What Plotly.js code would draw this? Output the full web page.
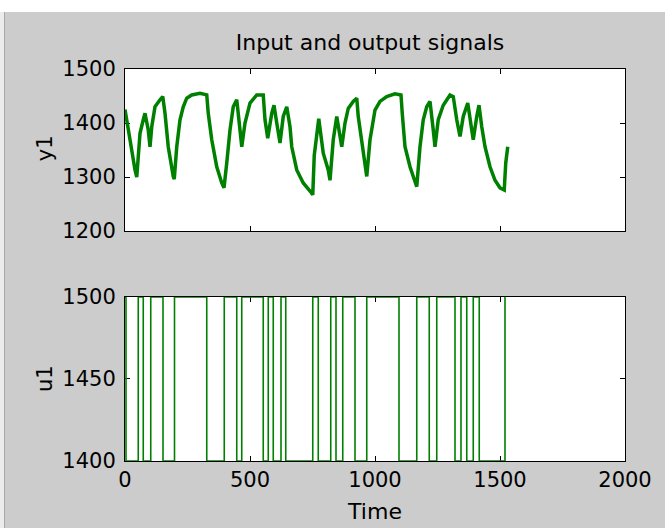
<!DOCTYPE html>
<html><head><meta charset="utf-8">
<script src="https://cdn.plot.ly/plotly-3.0.1.min.js"></script>
<style>
html,body{margin:0;padding:0;background:#ffffff;width:665px;height:528px;overflow:hidden}
#edge{position:absolute;left:0;top:12px;width:4px;height:516px;background:#ececec;border-right:1px solid #a8a8a8}
#chart{position:absolute;left:5px;top:12px;width:660px;height:516px}
</style></head>
<body>
<div id="edge"></div>
<div id="chart"></div>
<script>
// ---- output signal y1 (time, value) ----
const yTime = [0,13,27,40,47,60,73,80,93,100,107,120,140,151,160,173,193,197,207,220,233,247,267,300,327,333,347,367,387,396,407,420,433,447,460,467,480,500,527,553,560,571,587,596,607,620,633,647,660,667,687,713,747,751,757,767,775,793,813,820,833,847,860,867,880,893,913,927,933,947,960,967,980,1000,1020,1047,1080,1104,1109,1120,1140,1160,1167,1180,1193,1207,1220,1233,1240,1253,1273,1300,1313,1327,1340,1353,1371,1387,1393,1407,1416,1427,1440,1460,1480,1500,1517,1523,1531];
const yValue = [1425,1387,1356,1313,1300,1381,1406,1418,1387,1356,1393,1430,1443,1449,1418,1356,1301,1296,1356,1406,1430,1446,1452,1455,1452,1418,1369,1319,1289,1280,1326,1387,1430,1443,1387,1356,1400,1437,1452,1452,1406,1372,1418,1433,1400,1363,1412,1430,1393,1356,1313,1289,1270,1267,1340,1380,1408,1344,1313,1294,1369,1412,1375,1356,1400,1427,1440,1446,1412,1363,1319,1301,1369,1424,1440,1449,1454,1452,1418,1356,1319,1294,1282,1356,1406,1430,1440,1387,1356,1406,1433,1452,1449,1406,1375,1412,1437,1387,1369,1412,1433,1393,1356,1319,1294,1280,1276,1326,1356];

// ---- input signal u1: switching instants and level held from each ----
const uTime  = [0,4,53,73,103,152,198,327,397,447,467,553,573,593,624,643,751,773,823,844,871,920,967,1096,1167,1217,1247,1320,1344,1367,1393,1417,1520];
const uLevel = [1500,1400,1500,1400,1500,1400,1500,1400,1500,1400,1500,1400,1500,1400,1500,1400,1500,1400,1500,1400,1500,1400,1500,1400,1500,1400,1500,1400,1500,1400,1500,1400,1500];

// ---- axis ticks / labels ----
const xTicks = [0,500,1000,1500,2000];
const y1Ticks = [1200,1300,1400,1500];
const u1Ticks = [1400,1450,1500];
const titleText = "Input and output signals";
const xLabel = "Time", y1Label = "y1", u1Label = "u1";

const green = "#008000";
const fnt = {family:"DejaVu Sans, sans-serif", size:21, color:"#000"};
const tfnt = {family:"DejaVu Sans, sans-serif", size:22, color:"#000"};

const traces = [
  {x:yTime, y:yValue, xaxis:"x2", yaxis:"y2", type:"scatter", mode:"lines",
   line:{color:green, width:3.5}, hoverinfo:"skip"},
  {x:uTime, y:uLevel, xaxis:"x", yaxis:"y", type:"scatter", mode:"lines",
   line:{color:green, width:1.6, shape:"hv"}, cliponaxis:false, hoverinfo:"skip"}
];

const axCommon = {showline:true, linecolor:"#000", linewidth:1, mirror:"ticks",
  ticks:"inside", ticklen:5, tickcolor:"#000", showgrid:false, zeroline:false,
  tickfont:fnt, layer:"below traces", fixedrange:true};

const layout = {
  width:660, height:516,
  margin:{l:120, r:40, t:57, b:67},
  paper_bgcolor:"#cccccc", plot_bgcolor:"#ffffff",
  showlegend:false,
  title:{text:titleText, font:tfnt, x:0.49, xref:"paper", xanchor:"center", y:0.942, yref:"container", yanchor:"middle"},
  xaxis:Object.assign({}, axCommon, {domain:[0,1], anchor:"y", range:[0,2000], tickmode:"array", tickvals:xTicks,
    title:{text:xLabel, font:tfnt, standoff:12}}),
  xaxis2:Object.assign({}, axCommon, {domain:[0,1], anchor:"y2", range:[0,2000], tickmode:"array", tickvals:xTicks,
    showticklabels:false, matches:"x"}),
  yaxis:Object.assign({}, axCommon, {domain:[0,0.4184], anchor:"x", range:[1400,1500], tickmode:"array", tickvals:u1Ticks,
    ticklabelstandoff:4}),
  yaxis2:Object.assign({}, axCommon, {domain:[0.5867,1], anchor:"x2", range:[1200,1500], tickmode:"array", tickvals:y1Ticks,
    ticklabelstandoff:4}),
  annotations:[
    {text:y1Label, font:fnt, textangle:-90, xref:"paper", yref:"paper", x:-0.16, y:0.798, xanchor:"center", yanchor:"middle", showarrow:false},
    {text:u1Label, font:fnt, textangle:-90, xref:"paper", yref:"paper", x:-0.16, y:0.209, xanchor:"center", yanchor:"middle", showarrow:false}
  ]
};

Plotly.newPlot("chart", traces, layout, {displayModeBar:false, staticPlot:true});
</script>
</body></html>
